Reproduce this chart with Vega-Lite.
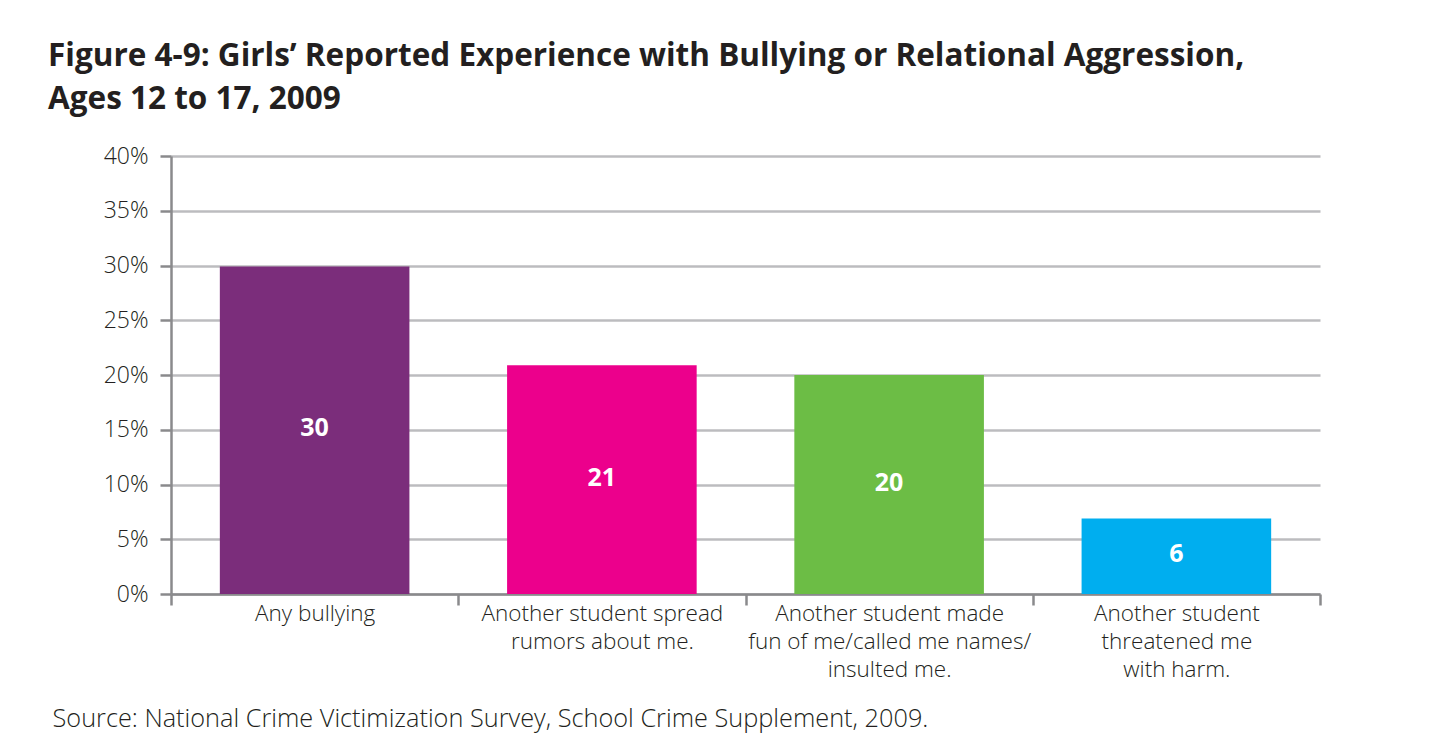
{
  "$schema": "https://vega.github.io/schema/vega-lite/v6.json",
  "autosize": {"type": "none"},
  "padding": {"left": 171, "top": 156, "right": 133, "bottom": 159},
  "width": 1149,
  "height": 438,
  "background": "#ffffff",
  "title": {
    "text": ["Figure 4-9: Girls’ Reported Experience with Bullying or Relational Aggression,", "Ages 12 to 17, 2009"],
    "anchor": "start",
    "frame": "group",
    "dx": -123,
    "offset": 5,
    "baseline": "alphabetic",
    "font": "Open Sans",
    "fontSize": 31.5,
    "fontWeight": "bold",
    "color": "#231f20",
    "lineHeight": 43
  },
  "data": {
    "values": [
      {"category": "Any bullying", "value": 29.9, "label": "30", "color": "#7b2d7b"},
      {"category": "Another student spread|rumors about me.", "value": 20.9, "label": "21", "color": "#ec008c"},
      {"category": "Another student made|fun of me/called me names/|insulted me.", "value": 20.0, "label": "20", "color": "#6cbd45"},
      {"category": "Another student|threatened me|with harm.", "value": 6.9, "label": "6", "color": "#00aeef"}
    ]
  },
  "encoding": {
    "x": {
      "field": "category",
      "type": "nominal",
      "sort": null,
      "scale": {"paddingInner": 0, "paddingOuter": 0},
      "axis": {
        "title": "Source: National Crime Victimization Survey, School Crime Supplement, 2009.",
        "titleX": -119,
        "titleY": 132,
        "titleAlign": "left",
        "titleAnchor": "start",
        "titleBaseline": "alphabetic",
        "titleFont": "Open Sans",
        "titleFontSize": 25.3,
        "titleFontWeight": 300,
        "titleColor": "#231f20",
        "labelExpr": "split(datum.label, '|')",
        "labelAngle": 0,
        "labelLimit": 0,
        "labelFont": "Open Sans",
        "labelFontSize": 22.5,
        "labelFontWeight": 300,
        "labelColor": "#231f20",
        "labelLineHeight": 28,
        "labelPadding": -3,
        "labelBaseline": "top",
        "tickBand": "extent",
        "tickSize": 11,
        "tickWidth": 2.5,
        "tickColor": "#8a8a8c",
        "domainColor": "#8a8a8c",
        "domainWidth": 2.5,
        "grid": false
      }
    },
    "y": {
      "field": "value",
      "type": "quantitative",
      "scale": {"domain": [0, 40], "nice": false},
      "axis": {
        "title": null,
        "values": [0, 5, 10, 15, 20, 25, 30, 35, 40],
        "labelExpr": "datum.value + '%'",
        "labelFont": "Open Sans",
        "labelFontSize": 23,
        "labelFontWeight": 300,
        "labelColor": "#231f20",
        "labelPadding": 12,
        "tickSize": 11,
        "tickWidth": 2.5,
        "tickColor": "#8a8a8c",
        "domainColor": "#8a8a8c",
        "domainWidth": 2.5,
        "grid": true,
        "gridColor": "#bcbcbf",
        "gridWidth": 2.5
      }
    }
  },
  "layer": [
    {
      "mark": {"type": "bar", "width": {"band": 0.66}},
      "encoding": {
        "color": {"field": "color", "type": "nominal", "scale": null}
      }
    },
    {
      "mark": {"type": "text", "color": "#ffffff", "font": "Open Sans", "fontSize": 25, "fontWeight": "bold", "baseline": "middle", "dy": -2},
      "encoding": {
        "y": {"field": "value", "type": "quantitative", "scale": {"domain": [0, 80], "nice": false}, "axis": null},
        "text": {"field": "label"}
      }
    }
  ],
  "resolve": {"scale": {"y": "independent"}},
  "config": {
    "view": {"stroke": null},
    "axis": {"zindex": 0}
  }
}
